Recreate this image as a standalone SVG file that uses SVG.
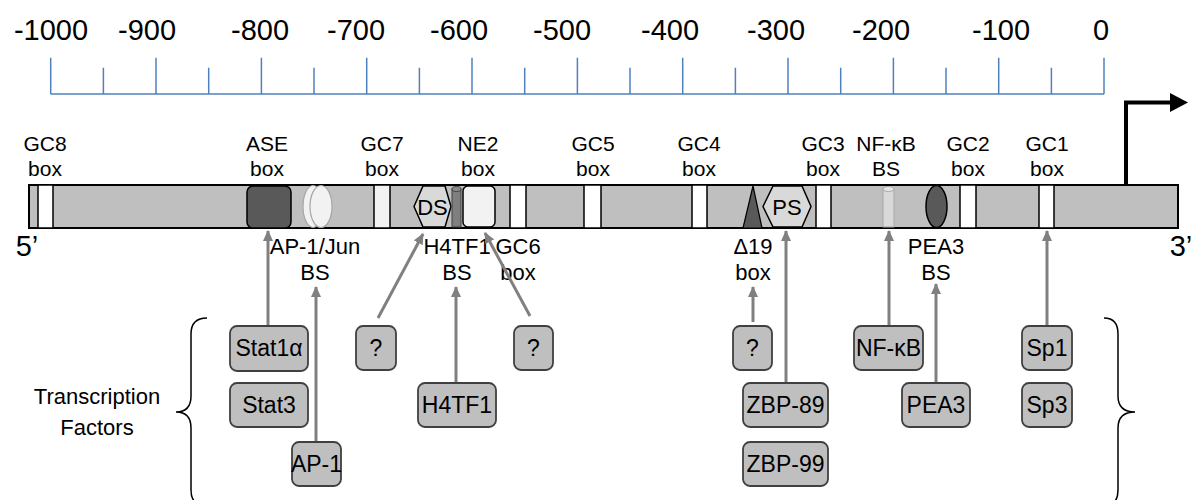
<svg xmlns="http://www.w3.org/2000/svg" width="1194" height="500" viewBox="0 0 1194 500">
<defs>
<style>
text{font-family:"Liberation Sans",Arial,sans-serif;fill:#000;text-anchor:middle}
.sc{font-size:29px}
.lb{font-size:21px}
.lb2{font-size:22px}
.big{font-size:29px}
.tick{stroke:#4f81bd;stroke-width:1.5;fill:none}
.bar{fill:#bfbfbf;stroke:#000;stroke-width:2}
.wb{fill:#fff;stroke:#000;stroke-width:1.5}
.tf rect{fill:#bfbfbf;stroke:#404040;stroke-width:1.8}
.tf text{font-size:23px}
.con{stroke:#808080;stroke-width:3;fill:none;marker-end:url(#ah)}
.brace{stroke:#000;stroke-width:1.5;fill:none}
</style>
<marker id="ah" markerUnits="userSpaceOnUse" markerWidth="11" markerHeight="10" viewBox="0 0 11 10" refX="10" refY="5" orient="auto">
<path d="M0,0 L11,5 L0,10 Z" fill="#808080"/>
</marker>
</defs>

<g id="scale">
<path class="tick" d="M50.7,94 H1104 M50.7,57.7 V94 M156,57.7 V94 M261.4,57.7 V94 M366.7,57.7 V94 M472,57.7 V94 M577.4,57.7 V94 M682.7,57.7 V94 M788,57.7 V94 M893.4,57.7 V94 M998.7,57.7 V94 M1104,57.7 V94 M103.4,67.7 V94 M208.7,67.7 V94 M314,67.7 V94 M419.4,67.7 V94 M524.7,67.7 V94 M630,67.7 V94 M735.4,67.7 V94 M840.7,67.7 V94 M946,67.7 V94 M1051.4,67.7 V94"/>
<text class="sc" x="51" y="40">-1000</text>
<text class="sc" x="147" y="40">-900</text>
<text class="sc" x="260" y="40">-800</text>
<text class="sc" x="356" y="40">-700</text>
<text class="sc" x="459" y="40">-600</text>
<text class="sc" x="562" y="40">-500</text>
<text class="sc" x="670" y="40">-400</text>
<text class="sc" x="776" y="40">-300</text>
<text class="sc" x="881" y="40">-200</text>
<text class="sc" x="1001" y="40">-100</text>
<text class="sc" x="1101" y="40">0</text>
</g>

<g id="tss-arrow">
<path d="M1126,185 V102.5 H1172" stroke="#000" stroke-width="4" fill="none"/>
<path d="M1170,93 L1188,102.5 L1170,112 Z" fill="#000"/>
</g>

<g id="promoter">
<rect class="bar" x="29" y="185" width="1149" height="43"/>
<text class="big" x="27" y="256">5’</text>
<text class="big" x="1181" y="256">3’</text>
</g>

<g id="gc8"><rect class="wb" x="38" y="185" width="15" height="43"/><text class="lb" x="45" y="151">GC8</text><text class="lb" x="45" y="176">box</text></g>
<g id="ase"><rect x="247" y="186" width="44" height="42" rx="6" fill="#595959" stroke="#000" stroke-width="1.5"/><text class="lb" x="267" y="151">ASE</text><text class="lb" x="267" y="176">box</text></g>
<g id="ap1-jun-bs"><ellipse cx="313" cy="206.5" rx="10" ry="21" fill="#f2f2f2" stroke="#a6a6a6" stroke-width="1.2"/><ellipse cx="321" cy="206.5" rx="11" ry="21" fill="#f2f2f2" stroke="#a6a6a6" stroke-width="1.2"/><text class="lb2" x="315" y="254">AP-1/Jun</text><text class="lb2" x="315" y="280">BS</text></g>
<g id="gc7"><rect x="374" y="185" width="16" height="43" fill="#f2f2f2" stroke="#000" stroke-width="1.5"/><text class="lb" x="382" y="151">GC7</text><text class="lb" x="382" y="176">box</text></g>
<g id="ds"><path d="M414,206.5 L423,186 L445,186 L451,206.5 L445,227 L423,227 Z" fill="#d9d9d9" stroke="#000" stroke-width="1.5"/><text class="lb2" x="432.5" y="214.5">DS</text></g>
<g id="h4tf1-bs"><rect x="452" y="189" width="9" height="38" fill="#7f7f7f" stroke="#404040" stroke-width="1"/><ellipse cx="456.5" cy="189" rx="4.5" ry="2.5" fill="#8c8c8c" stroke="#404040" stroke-width="1"/><text class="lb2" x="457" y="254">H4TF1</text><text class="lb2" x="457" y="280">BS</text></g>
<g id="ne2"><rect x="463" y="186" width="32" height="41" rx="5" fill="#f2f2f2" stroke="#000" stroke-width="1.5"/><text class="lb" x="478" y="151">NE2</text><text class="lb" x="478" y="176">box</text></g>
<g id="gc6"><rect class="wb" x="510" y="185" width="16" height="43"/><text class="lb2" x="518" y="254">GC6</text><text class="lb2" x="518" y="280">box</text></g>
<g id="gc5"><rect class="wb" x="584" y="185" width="17" height="43"/><text class="lb" x="593" y="151">GC5</text><text class="lb" x="593" y="176">box</text></g>
<g id="gc4"><rect class="wb" x="692" y="185" width="15" height="43"/><text class="lb" x="699" y="151">GC4</text><text class="lb" x="699" y="176">box</text></g>
<g id="d19"><path d="M743,228 L753,186 L762,228 Z" fill="#595959" stroke="#000" stroke-width="1.2"/><text class="lb2" x="753" y="254">Δ19</text><text class="lb2" x="753" y="280">box</text></g>
<g id="ps"><path d="M763,206.5 L773,186 L802,186 L811,206.5 L802,227 L773,227 Z" fill="#d9d9d9" stroke="#000" stroke-width="1.5"/><text class="lb2" x="787" y="214.5">PS</text></g>
<g id="gc3"><rect class="wb" x="816" y="185" width="15" height="43"/><text class="lb" x="823" y="151">GC3</text><text class="lb" x="823" y="176">box</text></g>
<g id="nfkb-bs"><rect x="883" y="189" width="11" height="38" fill="#d9d9d9" stroke="#a6a6a6" stroke-width="1"/><ellipse cx="888.5" cy="189" rx="5.5" ry="2.5" fill="#e6e6e6" stroke="#a6a6a6" stroke-width="1"/><text class="lb" x="886" y="151">NF-κB</text><text class="lb" x="886" y="176">BS</text></g>
<g id="pea3-bs"><ellipse cx="936.5" cy="206.5" rx="10.5" ry="21" fill="#595959" stroke="#000" stroke-width="1.5"/><text class="lb2" x="936" y="254">PEA3</text><text class="lb2" x="936" y="280">BS</text></g>
<g id="gc2"><rect class="wb" x="960" y="185" width="16" height="43"/><text class="lb" x="968" y="151">GC2</text><text class="lb" x="968" y="176">box</text></g>
<g id="gc1"><rect class="wb" x="1039" y="185" width="15" height="43"/><text class="lb" x="1047" y="151">GC1</text><text class="lb" x="1047" y="176">box</text></g>

<g id="connectors">
<line class="con" x1="268" y1="326" x2="268" y2="231"/>
<line class="con" x1="316" y1="442" x2="316" y2="287"/>
<line class="con" x1="378" y1="318" x2="423" y2="234"/>
<line class="con" x1="456" y1="383" x2="456" y2="287"/>
<line class="con" x1="530" y1="316" x2="485" y2="233"/>
<line class="con" x1="753" y1="322" x2="753" y2="287"/>
<line class="con" x1="786" y1="383" x2="786" y2="231"/>
<line class="con" x1="889" y1="326" x2="889" y2="231"/>
<line class="con" x1="936" y1="383" x2="936" y2="284"/>
<line class="con" x1="1047" y1="326" x2="1047" y2="231"/>
</g>

<g id="tf-label">
<text class="lb2" x="97" y="404">Transcription</text>
<text class="lb2" x="97" y="435">Factors</text>
<path class="brace" d="M207,318 Q191,318 191,334 V396 Q191,412 176,412 Q191,412 191,428 V490 Q191,506 207,506"/>
<path class="brace" d="M1104,318 Q1118,318 1118,334 V396 Q1118,412 1135,412 Q1118,412 1118,428 V490 Q1118,506 1104,506"/>
</g>

<g id="tf-stat1a" class="tf"><rect x="230" y="326" width="78" height="45" rx="7"/><text x="269" y="356">Stat1α</text></g>
<g id="tf-stat3" class="tf"><rect x="230" y="383" width="78" height="44" rx="7"/><text x="269" y="413">Stat3</text></g>
<g id="tf-ap1" class="tf"><rect x="292" y="442" width="49" height="44" rx="7"/><text x="316.5" y="472">AP-1</text></g>
<g id="tf-q1" class="tf"><rect x="356" y="326" width="40" height="44" rx="7"/><text x="376" y="356">?</text></g>
<g id="tf-h4tf1" class="tf"><rect x="418" y="383" width="78" height="44" rx="7"/><text x="457" y="413">H4TF1</text></g>
<g id="tf-q2" class="tf"><rect x="514" y="326" width="39" height="44" rx="7"/><text x="533.5" y="356">?</text></g>
<g id="tf-q3" class="tf"><rect x="733" y="326" width="39" height="44" rx="7"/><text x="752.5" y="356">?</text></g>
<g id="tf-zbp89" class="tf"><rect x="743" y="383" width="85" height="44" rx="7"/><text x="785.5" y="413">ZBP-89</text></g>
<g id="tf-zbp99" class="tf"><rect x="743" y="442" width="85" height="44" rx="7"/><text x="785.5" y="472">ZBP-99</text></g>
<g id="tf-nfkb" class="tf"><rect x="854" y="326" width="69" height="44" rx="7"/><text x="888.5" y="356">NF-κB</text></g>
<g id="tf-pea3" class="tf"><rect x="902" y="383" width="68" height="44" rx="7"/><text x="936" y="413">PEA3</text></g>
<g id="tf-sp1" class="tf"><rect x="1022" y="326" width="50" height="44" rx="7"/><text x="1047" y="356">Sp1</text></g>
<g id="tf-sp3" class="tf"><rect x="1022" y="383" width="50" height="44" rx="7"/><text x="1047" y="413">Sp3</text></g>
</svg>
